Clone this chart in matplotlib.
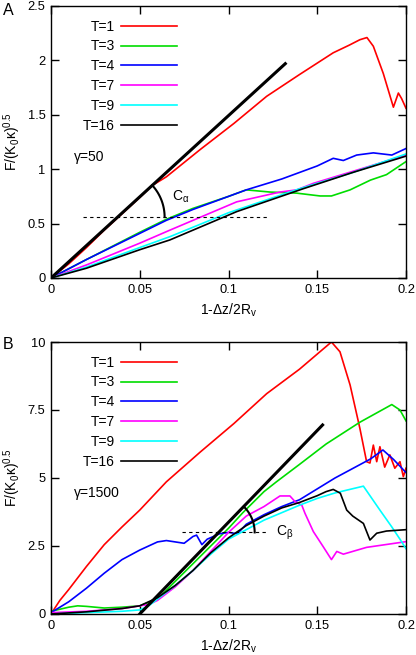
import numpy as np
import matplotlib
matplotlib.use("Agg")
import matplotlib.pyplot as plt

plt.rcParams['font.family'] = ['Liberation Sans', 'DejaVu Sans']
plt.rcParams['mathtext.fontset'] = 'custom'
plt.rcParams['mathtext.rm'] = 'Liberation Sans'
plt.rcParams['mathtext.it'] = 'Liberation Sans:italic'

labels = ['T=1', 'T=3', 'T=4', 'T=7', 'T=9', 'T=16']
colors = ['#ff0000', '#00dd00', '#0000ff', '#ff00ff', '#00ffff', '#000000']

# panel A  (gamma = 50)
xa_t1 = [0, 0.01, 0.02, 0.03, 0.04, 0.05, 0.057, 0.065, 0.084, 0.103, 0.1215, 0.14,
         0.159, 0.168, 0.174, 0.178, 0.1816, 0.1872, 0.1929, 0.1957, 0.1975, 0.2]
ya_t1 = [0, 0.13, 0.28, 0.44, 0.59, 0.74, 0.85, 0.93, 1.18, 1.42, 1.67, 1.87,
         2.07, 2.14, 2.19, 2.21, 2.13, 1.88, 1.57, 1.70, 1.65, 1.56]
xa_t3 = [0, 0.02, 0.05, 0.065, 0.08, 0.1, 0.11, 0.1234, 0.1384, 0.1516, 0.158, 0.1685, 0.18, 0.189, 0.2]
ya_t3 = [0, 0.17, 0.42, 0.54, 0.64, 0.75, 0.81, 0.79, 0.78, 0.754, 0.754, 0.81, 0.9, 0.95, 1.07]
xa_t4 = [0, 0.02, 0.05, 0.065, 0.08, 0.1, 0.11, 0.13, 0.15, 0.159, 0.1647, 0.1722, 0.1816, 0.192, 0.2]
ya_t4 = [0, 0.17, 0.41, 0.53, 0.63, 0.75, 0.81, 0.91, 1.03, 1.1, 1.08, 1.13, 1.15, 1.13, 1.19]
xa_t7 = [0, 0.02, 0.05, 0.067, 0.1046, 0.129, 0.1384, 0.1478, 0.17, 0.2]
ya_t7 = [0, 0.12, 0.32, 0.44, 0.70, 0.79, 0.81, 0.87, 0.98, 1.13]
xa_t9 = [0, 0.02, 0.05, 0.067, 0.1, 0.14, 0.17, 0.2]
ya_t9 = [0, 0.1, 0.28, 0.38, 0.6, 0.82, 0.97, 1.14]
xa_t16 = [0, 0.02, 0.05, 0.067, 0.1046, 0.142, 0.17, 0.2]
ya_t16 = [0, 0.09, 0.26, 0.35, 0.61, 0.82, 0.97, 1.12]

# panel B  (gamma = 1500)
xb_t1 = [0, 0.005, 0.01, 0.02, 0.03, 0.04, 0.05, 0.065, 0.084, 0.103, 0.1215, 0.14, 0.1515, 0.158,
         0.1628, 0.1685, 0.174, 0.1778, 0.1797, 0.1816, 0.1835, 0.1853, 0.188, 0.1909, 0.1937,
         0.1966, 0.1985, 0.2]
yb_t1 = [0, 0.5, 0.9, 1.75, 2.55, 3.2, 3.82, 4.86, 5.95, 7.0, 8.1, 9.0, 9.64, 10.0,
         9.64, 8.42, 6.83, 5.6, 5.55, 6.21, 5.6, 6.15, 5.4, 5.85, 5.36,
         5.6, 5.05, 5.36]
xb_t3 = [0, 0.01, 0.015, 0.02, 0.03, 0.04, 0.05, 0.06, 0.07, 0.08, 0.09, 0.1, 0.108, 0.12,
         0.127, 0.14, 0.155, 0.174, 0.192, 0.1966, 0.2]
yb_t3 = [0.1, 0.25, 0.3, 0.28, 0.22, 0.25, 0.3, 0.55, 1.2, 1.85, 2.5, 3.15, 3.72, 4.5,
         4.86, 5.5, 6.25, 7.05, 7.7, 7.5, 7.1]
xb_t4 = [0, 0.01, 0.02, 0.03, 0.04, 0.05, 0.06, 0.065, 0.07, 0.075, 0.08, 0.082, 0.085, 0.088,
         0.095, 0.1, 0.105, 0.11, 0.12, 0.13, 0.14, 0.15, 0.16, 0.17, 0.18, 0.187, 0.193, 0.2]
yb_t4 = [0.05, 0.45, 0.95, 1.5, 2.0, 2.35, 2.65, 2.7, 2.65, 2.6, 2.85, 2.9, 2.55, 2.75,
         2.95, 3.0, 2.95, 3.3, 3.65, 3.95, 4.2, 4.6, 5.0, 5.35, 5.7, 6.03, 5.68, 5.2]
xb_t7 = [0, 0.02, 0.04, 0.05, 0.055, 0.06, 0.07, 0.08, 0.09, 0.1, 0.11, 0.12, 0.129, 0.1346,
         0.1375, 0.1413, 0.1431, 0.1478, 0.1534, 0.158, 0.161, 0.1647, 0.1778, 0.2]
yb_t7 = [0.05, 0.1, 0.2, 0.3, 0.35, 0.5, 1.0, 1.6, 2.3, 3.0, 3.6, 3.95, 4.34, 4.34,
         4.13, 4.0, 3.7, 3.03, 2.47, 2.0, 2.3, 2.2, 2.45, 2.66]
xb_t9 = [0, 0.02, 0.04, 0.05, 0.055, 0.06, 0.07, 0.08, 0.09, 0.1, 0.12, 0.14, 0.15, 0.16,
         0.176, 0.1853, 0.1919, 0.1966, 0.2]
yb_t9 = [0, 0.05, 0.1, 0.15, 0.3, 0.55, 1.05, 1.6, 2.2, 2.75, 3.45, 4.0, 4.25, 4.45,
         4.7, 3.82, 3.21, 2.75, 2.4]
xb_t16 = [0, 0.02, 0.04, 0.05, 0.06, 0.07, 0.08, 0.09, 0.1, 0.11, 0.12, 0.13, 0.14, 0.15,
          0.155, 0.159, 0.163, 0.1666, 0.17, 0.176, 0.1797, 0.1835, 0.189, 0.2]
yb_t16 = [0, 0.08, 0.2, 0.3, 0.6, 1.05, 1.6, 2.25, 2.8, 3.25, 3.6, 3.9, 4.1, 4.35,
          4.5, 4.58, 4.44, 3.82, 3.6, 3.33, 2.72, 2.97, 3.05, 3.1]

# tangent lines and reference levels
tan_a_x = [0.0, 0.132]
tan_a_y = [0.0, 1.97]
tan_b_x = [0.05, 0.153]
tan_b_y = [0.0, 6.95]
ref_a = 0.56
ref_b = 3.0

W, H, DPI = 4.16, 6.55, 100
fig = plt.figure(figsize=(W, H), dpi=DPI)
axA = fig.add_axes([51 / 416, 1 - 278 / 655, 355 / 416, 272 / 655])
axB = fig.add_axes([51 / 416, 1 - 614 / 655, 355 / 416, 272 / 655])

curvesA = [(xa_t1, ya_t1), (xa_t3, ya_t3), (xa_t4, ya_t4), (xa_t7, ya_t7), (xa_t9, ya_t9), (xa_t16, ya_t16)]
curvesB = [(xb_t1, yb_t1), (xb_t3, yb_t3), (xb_t4, yb_t4), (xb_t7, yb_t7), (xb_t9, yb_t9), (xb_t16, yb_t16)]


def arc(ax, x0, y0, x1, y1, yref, r_px):
    # arc between tangent line and horizontal dashed level, drawn in pixel space
    slope = (y1 - y0) / (x1 - x0)
    xc = x0 + (yref - y0) / slope
    bb = ax.get_position()
    sx = bb.width * W * DPI / (ax.get_xlim()[1] - ax.get_xlim()[0])
    sy = bb.height * H * DPI / (ax.get_ylim()[1] - ax.get_ylim()[0])
    ang = np.arctan(slope * sy / sx)
    t = np.linspace(0, ang, 40)
    ax.plot(xc + r_px * np.cos(t) / sx, yref + r_px * np.sin(t) / sy, color='k', lw=1.5)


def style(ax, ymax, yticks, yticklabels):
    ax.set_xlim(0, 0.2)
    ax.set_ylim(0, ymax)
    ax.set_xticks([0, 0.05, 0.1, 0.15, 0.2])
    ax.set_xticklabels(['0', '0.05', '0.1', '0.15', '0.2'])
    ax.set_yticks(yticks)
    ax.set_yticklabels(yticklabels)
    ax.tick_params(direction='in', top=True, right=True, length=5.5, width=1,
                   labelsize=9.3, pad=4)
    for s in ax.spines.values():
        s.set_linewidth(1)
    ax.set_xlabel(r'1-Δz/2R$_\mathrm{v}$', fontsize=10, labelpad=4)
    ax.set_ylabel(r'F/(K$_\mathrm{0}$κ)$^\mathrm{0.5}$', fontsize=10, labelpad=3)


for ax, curves in [(axA, curvesA), (axB, curvesB)]:
    for (x, y), c, lab in zip(curves, colors, labels):
        ax.plot(x, y, color=c, lw=1.2, label=lab)
    ax.legend(loc='upper right', bbox_to_anchor=(0.355, 0.95), markerfirst=False,
              frameon=False, fontsize=10, handlelength=4.0, handletextpad=0.5,
              labelspacing=0.42, borderpad=0, borderaxespad=0)

style(axA, 2.5, [0, 0.5, 1, 1.5, 2, 2.5], ['0', '0.5', '1', '1.5', '2', '2.5'])
style(axB, 10, [0, 2.5, 5, 7.5, 10], ['0', '2.5', '5', '7.5', '10'])

axA.plot(tan_a_x, tan_a_y, color='k', lw=2.2)
axA.plot([0.018, 0.122], [ref_a, ref_a], color='k', lw=0.8, ls=(0, (3, 3)))
arc(axA, tan_a_x[0], tan_a_y[0], tan_a_x[1], tan_a_y[1], ref_a, 47)
axA.text(0.068, 0.75, r'C$_\mathrm{α}$', fontsize=10, va='center', ha='left')
axA.text(0.013, 1.11, 'γ=50', fontsize=10, va='center', ha='left')

axB.plot(tan_b_x, tan_b_y, color='k', lw=2.2)
axB.plot([0.074, 0.1215], [ref_b, ref_b], color='k', lw=0.8, ls=(0, (3, 3)))
arc(axB, tan_b_x[0], tan_b_y[0], tan_b_x[1], tan_b_y[1], ref_b, 36)
axB.text(0.1265, 3.0, r'C$_\mathrm{β}$', fontsize=10, va='center', ha='left')
axB.text(0.013, 4.46, 'γ=1500', fontsize=10, va='center', ha='left')

fig.text(0.006, 1 - 3 / 655, 'A', fontsize=11.5, va='top', ha='left')
fig.text(0.006, 1 - 337 / 655, 'B', fontsize=11.5, va='top', ha='left')

fig.savefig('out.png', dpi=DPI)
